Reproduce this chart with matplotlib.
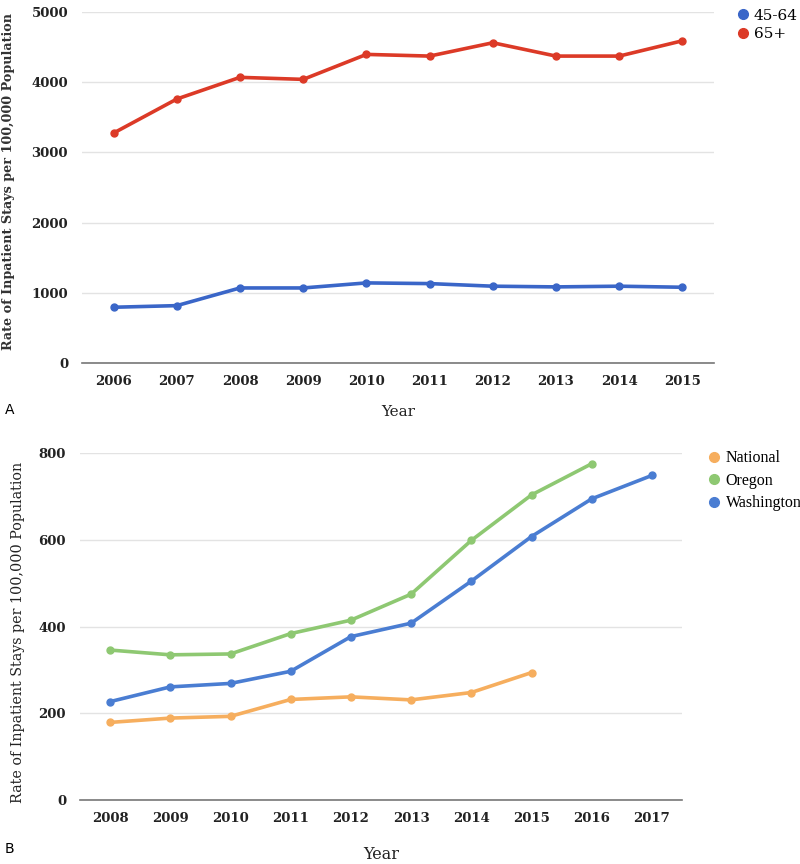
import matplotlib
matplotlib.use("Agg")
import matplotlib.pyplot as plt
from matplotlib.lines import Line2D

years_a = [2006, 2007, 2008, 2009, 2010, 2011, 2012, 2013, 2014, 2015]
age_45_64 = [793, 816, 1068, 1068, 1140, 1130, 1093, 1083, 1093, 1078]
age_65_plus = [3276, 3761, 4070, 4041, 4397, 4373, 4563, 4373, 4373, 4591]

years_b = [2008, 2009, 2010, 2011, 2012, 2013, 2014, 2015, 2016, 2017]
national = [179, 189, 193, 232, 238, 231, 248, 294]
oregon = [346, 335, 337, 384, 415, 475, 599, 704, 776]
washington = [227, 261, 269, 297, 377, 408, 505, 608, 695, 749]

ylabel = "Rate of Inpatient Stays per 100,000 Population"
SERIF = ["DejaVu Serif"]

fig = plt.figure(figsize=(8, 8.64), dpi=100)

def style_axes(ax):
    for s in ["top", "right", "left"]:
        ax.spines[s].set_visible(False)
    ax.spines["bottom"].set_color("#777777")
    ax.spines["bottom"].set_linewidth(1.2)
    ax.grid(axis="y", color="#e3e3e3", linewidth=1)
    ax.set_axisbelow(True)
    ax.tick_params(length=0, labelsize=9.5, colors="#222222")
    for lab in ax.get_xticklabels() + ax.get_yticklabels():
        lab.set_fontfamily(SERIF)
        lab.set_fontweight("bold")

# Panel A
axA = fig.add_axes([0.1025, 0.580, 0.79, 0.406])
cA_blue = "#3a66c8"
cA_red = "#dc3a27"
axA.plot(years_a, age_45_64, color=cA_blue, lw=2.6, marker="o", ms=5)
axA.plot(years_a, age_65_plus, color=cA_red, lw=2.6, marker="o", ms=5)
axA.set_xlim(years_a[0] - 0.5, years_a[-1] + 0.5)
axA.set_ylim(0, 5000)
axA.set_yticks([0, 1000, 2000, 3000, 4000, 5000])
axA.set_xticks(years_a)
axA.tick_params(axis="y", pad=10)
axA.tick_params(axis="x", pad=9)
style_axes(axA)
axA.set_xlabel("Year", fontfamily=SERIF, fontsize=11, labelpad=12, color="#222222")
fig.text(0.011, 0.79, ylabel, rotation=90, ha="center", va="center",
         fontfamily=SERIF, fontsize=9.2, fontweight="bold", color="#333333")
hA = [Line2D([], [], color=cA_blue, marker="o", ls="none", ms=7),
      Line2D([], [], color=cA_red, marker="o", ls="none", ms=7)]
fig.legend(hA, ["45-64", "65+"], loc="upper left", bbox_to_anchor=(0.91, 0.997),
           frameon=False, prop={"family": SERIF, "size": 11}, handletextpad=0.1,
           labelspacing=0.3, borderaxespad=0, handlelength=1.2)
fig.text(0.006, 0.525, "A", fontsize=10, fontfamily="DejaVu Sans", va="center")

# Panel B
axB = fig.add_axes([0.1, 0.0741, 0.7525, 0.4012])
c_nat = "#f6ae5e"
c_or = "#8ec872"
c_wa = "#4a7dd2"
axB.plot(years_b[:len(national)], national, color=c_nat, lw=2.6, marker="o", ms=5)
axB.plot(years_b[:len(oregon)], oregon, color=c_or, lw=2.6, marker="o", ms=5)
axB.plot(years_b[:len(washington)], washington, color=c_wa, lw=2.6, marker="o", ms=5)
axB.set_xlim(years_b[0] - 0.5, years_b[-1] + 0.5)
axB.set_ylim(0, 800)
axB.set_yticks([0, 200, 400, 600, 800])
axB.set_xticks(years_b)
axB.tick_params(axis="y", pad=10)
axB.tick_params(axis="x", pad=9)
style_axes(axB)
axB.set_xlabel("Year", fontfamily=SERIF, fontsize=11.5, labelpad=15, color="#222222")
fig.text(0.022, 0.268, ylabel, rotation=90, ha="center", va="center",
         fontfamily=SERIF, fontsize=10.3, color="#222222")
hB = [Line2D([], [], color=c, marker="o", ls="none", ms=7) for c in (c_nat, c_or, c_wa)]
fig.legend(hB, ["National", "Oregon", "Washington"], loc="upper left",
           bbox_to_anchor=(0.874, 0.486), frameon=False,
           prop={"family": "Liberation Serif", "size": 11.5}, handletextpad=0.15,
           labelspacing=0.4, borderaxespad=0, handlelength=1.1)
fig.text(0.006, 0.017, "B", fontsize=10, fontfamily="DejaVu Sans", va="center")

fig.savefig("out.png", dpi=100, facecolor="white")
